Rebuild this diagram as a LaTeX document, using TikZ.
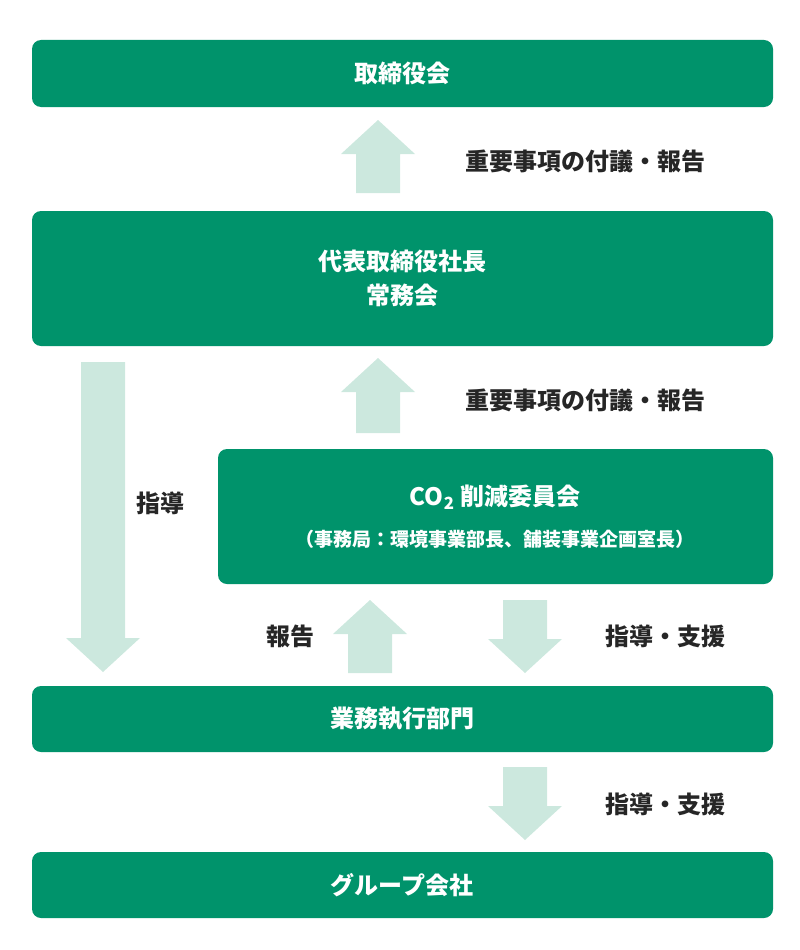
\documentclass[tikz,border=0pt]{standalone}
\usepackage{fontspec}
\setmainfont{Noto Sans CJK JP}
\begin{document}
\begin{tikzpicture}[x=1pt,y=-1pt,
  box/.style={fill=boxg,rounded corners=9pt,text=white,font=\fontsize{24}{34}\selectfont\bfseries,align=center},
  lab/.style={font=\fontsize{24}{30}\selectfont\bfseries,text=black!85}]
\definecolor{boxg}{HTML}{00936B}
\definecolor{arg}{HTML}{CCE8DE}
\useasboundingbox (0,0) rectangle (800,950);
% arrows: up (cx, ytop, ybottom)
\newcommand{\uparr}[3]{\fill[arg] (#1-22,#3) -- (#1-22,#2+34) -- (#1-37,#2+34) -- (#1,#2) -- (#1+37,#2+34) -- (#1+22,#2+34) -- (#1+22,#3) -- cycle;}
\newcommand{\dnarr}[3]{\fill[arg] (#1-22,#2) -- (#1-22,#3-34) -- (#1-37,#3-34) -- (#1,#3) -- (#1+37,#3-34) -- (#1+22,#3-34) -- (#1+22,#2) -- cycle;}
\uparr{378}{120}{193}
\uparr{378}{358}{433}
\dnarr{103}{362}{672}
\uparr{370}{600}{673}
\dnarr{525}{600}{673}
\dnarr{525}{767}{840}
\fill[boxg,rounded corners=9pt] (32,40) rectangle (773,107);
\node[box] (a) at (402,73) {取締役会};
\fill[boxg,rounded corners=9pt] (32,211) rectangle (773,346);
\node[box] (b) at (402,278) {代表取締役社長\\常務会};
\fill[boxg,rounded corners=9pt] (218,449) rectangle (773,584);
\node[box] (c) at (495,497) {CO\textsubscript{2} 削減委員会};
\node[text=white,font=\fontsize{19}{22}\selectfont\bfseries] (c2) at (495,539) {（事務局：環境事業部長、舗装事業企画室長）};
\fill[boxg,rounded corners=9pt] (32,686) rectangle (773,752);
\node[box] (d) at (402,719) {業務執行部門};
\fill[boxg,rounded corners=9pt] (32,852) rectangle (773,918);
\node[box] (e) at (402,885) {グループ会社};
\node[lab] (l1) at (585,161) {重要事項の付議・報告};
\node[lab] (l2) at (585,400) {重要事項の付議・報告};
\node[lab] (l3) at (160,503) {指導};
\node[lab] (l4) at (290,636) {報告};
\node[lab] (l5) at (665,636) {指導・支援};
\node[lab] (l6) at (665,804) {指導・支援};
\end{tikzpicture}
\end{document}
